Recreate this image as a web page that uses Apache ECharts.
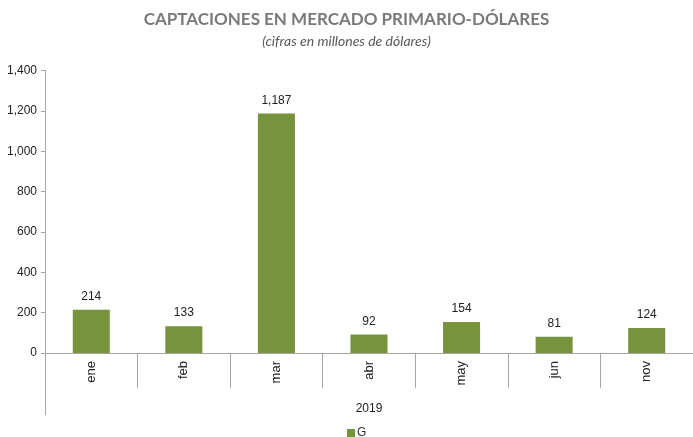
<!DOCTYPE html>
<html><head><meta charset="utf-8">
<script src="https://cdn.jsdelivr.net/npm/echarts@6/dist/echarts.min.js"></script>
<style>html,body{margin:0;padding:0;background:#fff}#c{width:693px;height:437px}</style>
</head><body><div id="c"></div>
<script>
const categories = ['ene','feb','mar','abr','may','jun','nov'];
const values = [214,133,1187,92,154,81,124];
const yearLabels = ['2019'];
const seriesName = 'G';

const chart = echarts.init(document.getElementById('c'), null, {renderer:'canvas'});
const narrow = "'Liberation Sans Narrow','Arial Narrow',sans-serif";
chart.setOption({
  animation:false,
  title:[{
    text:'CAPTACIONES EN MERCADO PRIMARIO-DÓLARES',
    left:'center', top:6,
    textStyle:{fontFamily:'Lato', fontWeight:'bold', fontSize:17, color:'#7a7a7a'}
  },{
    text:'(cifras en millones de dólares)',
    left:'center', top:29,
    textStyle:{fontFamily:'Lato', fontStyle:'italic', fontWeight:'normal', fontSize:14, color:'#595959'}
  }],
  legend:{
    data:[seriesName], bottom:-7, left:342, padding:5,
    itemWidth:8, itemHeight:8, icon:'rect', itemGap:4,
    textStyle:{fontFamily:narrow, fontSize:12, color:'#333', padding:[0,0,0,-3]}
  },
  grid:{left:45, right:0, top:70.5, bottom:84, containLabel:false},
  xAxis:[{
    type:'category', data:categories, position:'bottom',
    axisLine:{lineStyle:{color:'#a6a6a6'}},
    axisTick:{show:true, interval:0, length:35, lineStyle:{color:'#a6a6a6'}},
    axisLabel:{rotate:90, margin:8, interval:0, fontFamily:narrow, fontSize:13, color:'#222'}
  },{
    type:'category', data:yearLabels, position:'bottom', offset:0,
    axisLine:{show:false},
    axisTick:{show:true, length:62, lineStyle:{color:'#a6a6a6'}},
    axisLabel:{margin:50, fontFamily:narrow, fontSize:12, color:'#222'}
  }],
  yAxis:{
    type:'value', min:0, max:1400, interval:200,
    axisLine:{show:true, lineStyle:{color:'#a6a6a6'}},
    axisTick:{show:true, length:4, lineStyle:{color:'#a6a6a6'}},
    splitLine:{show:false},
    axisLabel:{margin:8, fontFamily:narrow, fontSize:12, color:'#222',
      formatter:v=>v.toLocaleString('en-US')}
  },
  series:[{
    name:seriesName, type:'bar', data:values, xAxisIndex:0,
    barWidth:'40%',
    itemStyle:{color:'#77933c'},
    label:{show:true, position:'top', distance:7, fontFamily:narrow, fontSize:12, color:'#222',
      formatter:p=>p.value.toLocaleString('en-US')}
  }]
});
</script></body></html>
